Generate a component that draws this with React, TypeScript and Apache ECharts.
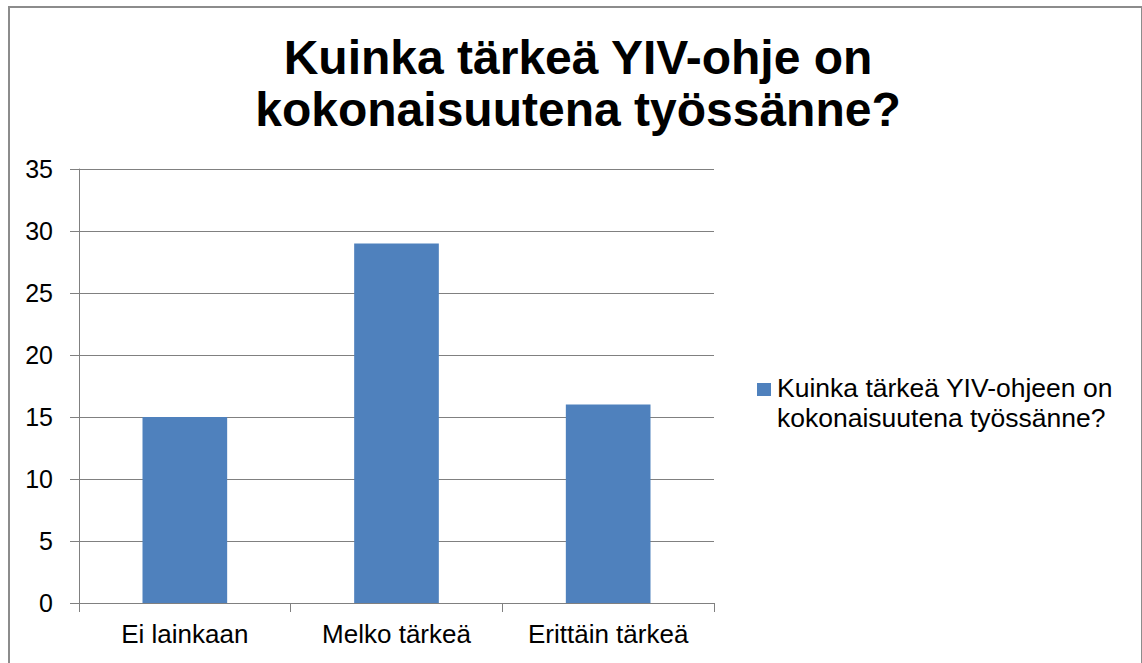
import React, { useEffect, useRef } from "react";
import * as echarts from "echarts";

const titleLines = ["Kuinka tärkeä YIV-ohje on", "kokonaisuutena työssänne?"];
const seriesName = "Kuinka tärkeä YIV-ohjeen on kokonaisuutena työssänne?";
const legendLines = ["Kuinka tärkeä YIV-ohjeen on", "kokonaisuutena työssänne?"];
const categories = ["Ei lainkaan", "Melko tärkeä", "Erittäin tärkeä"];
const values = [15, 29, 16];
const yMin = 0;
const yMax = 35;
const yInterval = 5;

const FONT = "'Liberation Sans', Arial, sans-serif";
const BAR = "#4F81BD";
const GRID = "#808080";

export default function App() {
  const ref = useRef<HTMLDivElement>(null);
  useEffect(() => {
    if (!ref.current) return;
    const chart = echarts.init(ref.current, undefined, { renderer: "svg" });
    chart.setOption({
      animation: false,
      backgroundColor: "#ffffff",
      title: {
        text: titleLines.join("\n"),
        left: 573,
        textAlign: "center",
        top: 26,
        textStyle: {
          fontFamily: FONT,
          fontSize: 48,
          fontWeight: "bold",
          lineHeight: 52,
          color: "#000000",
        },
      },
      legend: { show: false },
      grid: { left: 79, right: 428, top: 169, bottom: 60, containLabel: false },
      xAxis: {
        type: "category",
        data: categories,
        boundaryGap: true,
        axisLine: { show: true, lineStyle: { color: GRID, width: 1 } },
        axisTick: { show: true, length: 9, alignWithLabel: false, lineStyle: { color: GRID } },
        axisLabel: { fontFamily: FONT, fontSize: 26, color: "#000000", margin: 18 },
        splitLine: { show: false },
      },
      yAxis: {
        type: "value",
        min: yMin,
        max: yMax,
        interval: yInterval,
        axisLine: { show: true, lineStyle: { color: GRID, width: 1 } },
        axisTick: { show: true, length: 9, lineStyle: { color: GRID } },
        axisLabel: { fontFamily: FONT, fontSize: 25, color: "#000000", margin: 26 },
        splitLine: { show: true, lineStyle: { color: GRID, width: 1 } },
      },
      series: [
        {
          name: seriesName,
          type: "bar",
          data: values,
          barCategoryGap: "60%",
          itemStyle: { color: BAR },
        },
      ],
      graphic: [
        {
          type: "rect",
          shape: { x: 9, y: 7, width: 1133, height: 700 },
          style: { fill: "none", stroke: "#8c8c8c", lineWidth: 2 },
          silent: true,
        },
        {
          type: "rect",
          shape: { x: 757, y: 383, width: 14, height: 13 },
          style: { fill: BAR },
        },
        {
          type: "text",
          x: 777,
          y: 373,
          style: {
            text: legendLines.join("\n"),
            fontFamily: FONT,
            fontSize: 26.5,
            lineHeight: 30,
            fill: "#000000",
            textVerticalAlign: "top",
            verticalAlign: "top",
          },
        },
      ],
    });
    return () => chart.dispose();
  }, []);
  return (
    <div
      ref={ref}
      style={{ position: "absolute", left: 0, top: 0, width: 1142, height: 663 }}
    />
  );
}
